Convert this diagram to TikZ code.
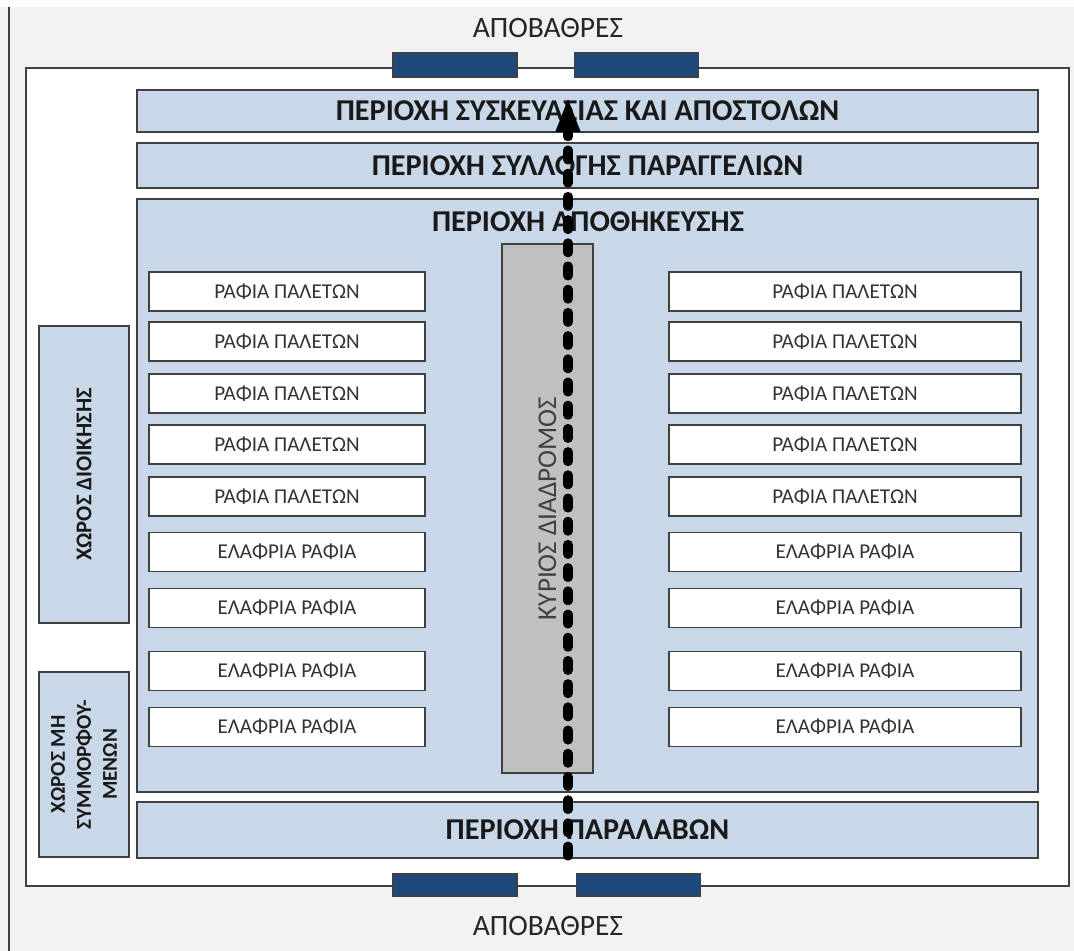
\documentclass[tikz,border=0pt]{standalone}
\usepackage{fontspec}
\setmainfont{Carlito}
\usetikzlibrary{arrows.meta}
\definecolor{zonefill}{RGB}{201,216,232}
\definecolor{dockfill}{RGB}{31,73,125}
\definecolor{aislefill}{RGB}{192,192,192}
\definecolor{edgegray}{RGB}{64,64,64}
\definecolor{pagegray}{RGB}{242,242,242}
\tikzset{
  zone/.style={draw=edgegray, line width=1.2pt, fill=zonefill, inner sep=0pt,
    font=\bfseries\fontsize{21.5}{24}\selectfont, text=black!90},
  sidezone/.style={zone, rotate=90, align=center,
    font=\bfseries\fontsize{16}{18.5}\selectfont},
  rack/.style={draw=edgegray, line width=1.2pt, fill=white, inner sep=0pt,
    minimum height=0.975cm, font=\fontsize{15}{17}\selectfont, text=black!80},
  dock/.style={draw=edgegray, line width=1pt, fill=dockfill, inner sep=0pt,
    minimum width=3.1cm, minimum height=0.6cm},
  flow/.style={line width=6.5pt, dash pattern=on 7pt off 9.5pt, line cap=round,
    -{Triangle[length=25pt,width=16pt]}}
}
\begin{document}
\begin{tikzpicture}[x=0.025cm, y=-0.025cm]
      \useasboundingbox (0,0) rectangle (1074,951);
      \fill[pagegray] (0,7) rectangle (1074,951);
      \draw[edgegray, line width=1.4pt] (9,7) -- (9,951);
      % site and docks
      \node[draw=edgegray, line width=1.4pt, fill=white, minimum width=26.075cm,
        minimum height=20.45cm, inner sep=0pt] (site) at (547.5,477) {};
      \node[dock] (dock1) at (455,65) {};
      \node[dock] (dock2) at (636.5,65) {};
      \node[dock, minimum height=0.55cm] (dock3) at (455,885) {};
      \node[dock, minimum height=0.55cm] (dock4) at (638.5,885) {};
      \node[font=\fontsize{21}{24}\selectfont, text=black!85] (docktop) at (548,28) {ΑΠΟΒΑΘΡΕΣ};
      \node[font=\fontsize{21}{24}\selectfont, text=black!85] (dockbot) at (548,926) {ΑΠΟΒΑΘΡΕΣ};
      % zones
      \node[zone, minimum width=22.525cm, minimum height=1.05cm] (pack) at (587.5,111)
        {ΠΕΡΙΟΧΗ ΣΥΣΚΕΥΑΣΙΑΣ ΚΑΙ ΑΠΟΣΤΟΛΩΝ};
      \node[zone, minimum width=22.525cm, minimum height=1.125cm] (pick) at (587.5,165.5)
        {ΠΕΡΙΟΧΗ ΣΥΛΛΟΓΗΣ ΠΑΡΑΓΓΕΛΙΩΝ};
      \node[zone, minimum width=22.525cm, minimum height=14.825cm] (store) at (587.5,495.5) {};
      \node[font=\bfseries\fontsize{21.5}{24}\selectfont, text=black!90] (storetitle) at (588,222)
        {ΠΕΡΙΟΧΗ ΑΠΟΘΗΚΕΥΣΗΣ};
      \node[zone, minimum width=22.525cm, minimum height=1.4cm] (recv) at (587.5,830)
        {ΠΕΡΙΟΧΗ ΠΑΡΑΛΑΒΩΝ};
      \node[sidezone, minimum width=7.425cm, minimum height=2.25cm] (admin) at (84,474.5)
        {ΧΩΡΟΣ ΔΙΟΙΚΗΣΗΣ};
      \node[sidezone, font=\bfseries\fontsize{15}{18.5}\selectfont, minimum width=4.625cm,
        minimum height=2.25cm] (reject) at (84,764.5)
        {ΧΩΡΟΣ ΜΗ\\ΣΥΜΜΟΡΦΟΥ-\\ΜΕΝΩΝ};
      \node[draw=edgegray, line width=1.2pt, fill=aislefill, rotate=90, inner sep=0pt,
        minimum width=13.225cm, minimum height=2.275cm, font=\fontsize{19.3}{22}\selectfont,
        text=black!75] (aisle) at (547.5,508.5) {ΚΥΡΙΟΣ ΔΙΑΔΡΟΜΟΣ};
      % racks, left
      \node[rack, minimum width=6.9cm] (L1) at (287,291.5) {ΡΑΦΙΑ ΠΑΛΕΤΩΝ};
      \node[rack, minimum width=6.9cm] (L2) at (287,341.5) {ΡΑΦΙΑ ΠΑΛΕΤΩΝ};
      \node[rack, minimum width=6.9cm] (L3) at (287,393.5) {ΡΑΦΙΑ ΠΑΛΕΤΩΝ};
      \node[rack, minimum width=6.9cm] (L4) at (287,444.5) {ΡΑΦΙΑ ΠΑΛΕΤΩΝ};
      \node[rack, minimum width=6.9cm] (L5) at (287,496.5) {ΡΑΦΙΑ ΠΑΛΕΤΩΝ};
      \node[rack, minimum width=6.9cm] (L6) at (287,552) {ΕΛΑΦΡΙΑ ΡΑΦΙΑ};
      \node[rack, minimum width=6.9cm] (L7) at (287,608) {ΕΛΑΦΡΙΑ ΡΑΦΙΑ};
      \node[rack, minimum width=6.9cm] (L8) at (287,671) {ΕΛΑΦΡΙΑ ΡΑΦΙΑ};
      \node[rack, minimum width=6.9cm] (L9) at (287,727) {ΕΛΑΦΡΙΑ ΡΑΦΙΑ};
      % racks, right
      \node[rack, minimum width=8.8cm] (R1) at (845,291.5) {ΡΑΦΙΑ ΠΑΛΕΤΩΝ};
      \node[rack, minimum width=8.8cm] (R2) at (845,341.5) {ΡΑΦΙΑ ΠΑΛΕΤΩΝ};
      \node[rack, minimum width=8.8cm] (R3) at (845,393.5) {ΡΑΦΙΑ ΠΑΛΕΤΩΝ};
      \node[rack, minimum width=8.8cm] (R4) at (845,444.5) {ΡΑΦΙΑ ΠΑΛΕΤΩΝ};
      \node[rack, minimum width=8.8cm] (R5) at (845,496.5) {ΡΑΦΙΑ ΠΑΛΕΤΩΝ};
      \node[rack, minimum width=8.8cm] (R6) at (845,552) {ΕΛΑΦΡΙΑ ΡΑΦΙΑ};
      \node[rack, minimum width=8.8cm] (R7) at (845,608) {ΕΛΑΦΡΙΑ ΡΑΦΙΑ};
      \node[rack, minimum width=8.8cm] (R8) at (845,671) {ΕΛΑΦΡΙΑ ΡΑΦΙΑ};
      \node[rack, minimum width=8.8cm] (R9) at (845,727) {ΕΛΑΦΡΙΑ ΡΑΦΙΑ};
      % main flow
      \coordinate (flowstart) at (568,856);
      \coordinate (flowend) at (568,97);
      \draw[flow] (flowstart) -- (flowend);
    \end{tikzpicture}
\end{document}
